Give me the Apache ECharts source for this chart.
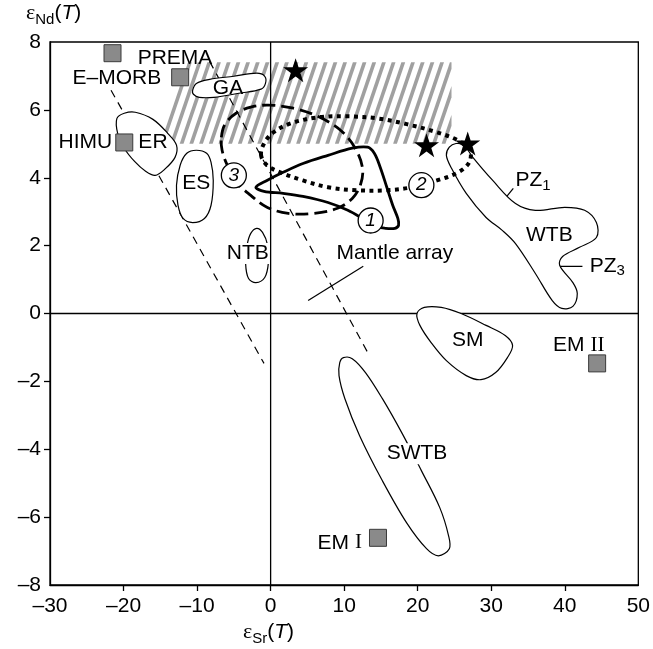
<!DOCTYPE html>
<html>
<head>
<meta charset="utf-8">
<script src="https://cdn.jsdelivr.net/npm/echarts@6/dist/echarts.min.js"></script>
<style>
  html, body { margin: 0; padding: 0; background: #fff; }
  #chart { width: 653px; height: 649px; }
</style>
</head>
<body>
<div id="chart"></div>
<script>
// Axis ticks
const X_TICKS = [-30, -20, -10, 0, 10, 20, 30, 40, 50];
const Y_TICKS = [-8, -6, -4, -2, 0, 2, 4, 6, 8];

// Mantle reservoirs (grey squares)
const endMembers = [[-21.5, 7.67], [-12.3, 6.96], [-19.9, 5.04], [44.4, -1.47], [14.6, -6.61]];
// Stars
const stars = [[3.4, 7.17], [21.2, 4.96], [26.8, 5.01]];
// Numbered trend markers
const circled = [[13.6, 2.74, '1'], [20.5, 3.78, '2'], [-5.0, 4.07, '3']];

// Field outlines (εSr, εNd)
const fieldER = [[-20.9, 5.75], [-19.9, 5.90], [-18.4, 5.93], [-16.0, 5.72], [-14.0, 5.31], [-12.8, 4.96],
  [-13.0, 4.60], [-14.4, 4.25], [-15.7, 4.07], [-17.0, 4.19], [-18.5, 4.48], [-19.9, 4.87], [-20.8, 5.31]];
const fieldES = [[-10.1, 4.81], [-8.7, 4.72], [-8.1, 4.45], [-7.8, 3.92], [-8.1, 3.19], [-9.0, 2.80],
  [-10.6, 2.68], [-11.9, 2.80], [-12.6, 3.19], [-12.8, 3.78], [-12.3, 4.37], [-11.4, 4.72]];
const fieldGA = [[-10.6, 6.58], [-10.1, 6.78], [-8.3, 6.90], [-5.0, 6.99], [-1.9, 7.08], [-0.8, 6.99],
  [-0.7, 6.78], [-1.3, 6.61], [-4.3, 6.49], [-7.7, 6.37], [-9.7, 6.37], [-10.5, 6.46]];
const fieldNTB = [[-1.9, 2.51], [-1.1, 2.39], [-0.4, 2.01], [-0.3, 1.50], [-0.8, 1.06], [-2.0, 0.91],
  [-3.0, 1.03], [-3.4, 1.47], [-3.2, 2.01], [-2.7, 2.36]];
const fieldWTB = [[24.3, 4.90], [25.2, 5.01], [26.3, 4.96], [27.5, 4.60], [30.2, 3.92], [33.3, 3.24],
  [36.0, 3.04], [40.0, 3.13], [42.7, 3.04], [44.3, 2.68], [44.3, 2.24], [42.0, 1.95], [39.7, 1.68],
  [39.3, 1.42], [41.1, 0.91], [41.7, 0.59], [41.1, 0.21], [39.6, 0.15], [38.3, 0.38], [36.0, 1.18],
  [33.3, 2.06], [31.5, 2.45], [29.3, 2.83], [26.6, 3.54], [24.6, 4.28], [23.9, 4.66]];
const fieldSM = [[19.9, 0.0], [20.9, 0.18], [23.2, 0.18], [25.9, 0.0], [29.3, -0.35], [31.9, -0.65],
  [32.9, -0.94], [32.2, -1.30], [30.6, -1.74], [28.6, -1.95], [26.6, -1.83], [23.9, -1.39],
  [21.9, -0.88], [20.3, -0.35]];
const fieldSWTB = [[9.9, -1.30], [11.1, -1.33], [12.9, -1.74], [15.2, -2.51], [17.9, -3.54], [20.5, -4.63],
  [23.0, -5.72], [24.2, -6.55], [24.3, -6.93], [22.8, -7.14], [21.2, -6.93], [18.5, -6.17],
  [15.2, -4.93], [12.1, -3.60], [10.1, -2.51], [9.3, -1.83], [9.4, -1.45]];

// Trend envelopes 1 (solid), 2 (dotted), 3 (dashed)
const trend1 = [[-2.0, 3.72], [-0.5, 3.92], [1.7, 4.16], [4.4, 4.42], [7.8, 4.66], [11.1, 4.87], [13.2, 4.90],
  [14.1, 4.72], [14.9, 4.31], [15.8, 3.72], [16.6, 3.19], [17.3, 2.80], [17.4, 2.60], [16.9, 2.51],
  [15.6, 2.51], [14.2, 2.57], [12.5, 2.80], [10.5, 3.04], [7.8, 3.27], [4.4, 3.45], [1.7, 3.54], [-0.9, 3.60]];
const trend2 = [[-1.3, 4.66], [-0.9, 5.01], [0.4, 5.34], [2.7, 5.60], [6.4, 5.78], [10.5, 5.81], [14.5, 5.75],
  [18.5, 5.58], [22.6, 5.34], [25.5, 5.10], [27.1, 4.81], [27.0, 4.45], [25.5, 4.16], [22.6, 3.92],
  [19.2, 3.72], [15.8, 3.63], [11.8, 3.63], [7.8, 3.72], [4.4, 3.92], [1.3, 4.16], [-0.5, 4.37]];
const trend3 = [[-6.7, 5.19], [-6.2, 5.58], [-4.7, 5.90], [-2.7, 6.08], [-0.3, 6.14], [3.1, 6.05], [6.4, 5.81],
  [9.5, 5.40], [11.5, 4.87], [12.5, 4.28], [12.2, 3.78], [11.1, 3.39], [9.1, 3.10], [5.8, 2.95],
  [2.4, 2.95], [-0.5, 3.13], [-2.7, 3.48], [-4.6, 3.86], [-5.9, 4.37], [-6.6, 4.81]];

// Hatched band (lower-left and upper-right corners)
const hatchBand = [[-15.0, 5.0], [24.6, 7.4]];

// Mantle array bounds and leader lines
const mantleArrayLeft = [[-21.7, 6.58], [-0.9, -1.47]];
const mantleArrayRight = [[-8.3, 7.43], [13.2, -1.15]];
const mantleArrayLeader = [[5.1, 0.38], [12.6, 1.39]];
const pz1Leader = [[30.9, 3.13], [33.0, 3.69]];
const pz3Leader = [[38.7, 1.39], [42.4, 1.39]];

// Text labels: [εSr, εNd, text]
const fieldLabels = [
  [-13.0, 7.52, 'PREMA'],
  [-20.9, 6.93, 'E–MORB'],
  [-5.8, 6.64, 'GA'],
  [-25.2, 5.04, 'HIMU'],
  [-16.0, 5.04, 'ER'],
  [-10.1, 3.83, 'ES'],
  [-3.1, 1.77, 'NTB'],
  [16.9, 1.77, 'Mantle array'],
  [37.9, 2.30, 'WTB'],
  [26.8, -0.80, 'SM'],
  [19.9, -4.13, 'SWTB'],
  [41.9, -0.94, 'EM {r|II}'],
  [9.4, -6.76, 'EM {r|I}']
];
const leftLabels = [
  [33.3, 3.92, 'PZ{s|1}'],
  [43.4, 1.39, 'PZ{s|3}']
];

const FONT = "'Liberation Sans', Arial, Helvetica, sans-serif";
const SERIF = "'Liberation Serif', 'Times New Roman', serif";
const dash = v => (v < 0 ? '–' + Math.abs(v) : String(v));

const chart = echarts.init(document.getElementById('chart'), null, { renderer: 'canvas' });

function outline(points, style, fill, z) {
  return {
    type: 'custom',
    coordinateSystem: 'cartesian2d',
    silent: true,
    clip: false,
    z: z,
    data: [points[0]],
    renderItem: (params, api) => ({
      type: 'polygon',
      shape: { points: points.map(p => api.coord(p)), smooth: 0.35 },
      style: Object.assign({ fill: fill, stroke: '#000' }, style)
    })
  };
}

function segment(points, width, type, z) {
  return {
    type: 'line',
    data: points,
    symbol: 'none',
    silent: true,
    z: z,
    lineStyle: { color: '#000', width: width, type: type, cap: 'butt' },
    animation: false
  };
}

// Keep the part of a polygon with x <= xr
function clipRight(poly, xr) {
  const out = [];
  for (let i = 0; i < poly.length; i++) {
    const a = poly[i], b = poly[(i + 1) % poly.length];
    const ina = a[0] <= xr, inb = b[0] <= xr;
    if (ina) out.push(a);
    if (ina !== inb) {
      const t = (xr - a[0]) / (b[0] - a[0]);
      out.push([xr, a[1] + t * (b[1] - a[1])]);
    }
  }
  return out;
}

const hatchSeries = {
  type: 'custom',
  coordinateSystem: 'cartesian2d',
  silent: true,
  z: 1,
  data: [hatchBand[0]],
  renderItem: (params, api) => {
    const bl = api.coord(hatchBand[0]);
    const tr = api.coord(hatchBand[1]);
    const h = bl[1] - tr[1];
    const lean = 0.34 * h, w = 3.8, step = 9.7;
    const children = [];
    for (let xb = bl[0]; xb < tr[0]; xb += step) {
      let poly = [[xb, bl[1]], [xb + w, bl[1]], [xb + w + lean, tr[1]], [xb + lean, tr[1]]];
      poly = clipRight(poly, tr[0]);
      if (poly.length > 2) {
        children.push({ type: 'polygon', shape: { points: poly }, style: { fill: '#a0a0a0' } });
      }
    }
    return { type: 'group', children: children };
  }
};

function textSeries(list, align, z) {
  return {
    type: 'custom',
    coordinateSystem: 'cartesian2d',
    silent: true,
    z: z,
    data: list.map(d => [d[0], d[1]]),
    renderItem: (params, api) => {
      const item = list[params.dataIndex];
      const p = api.coord([api.value(0), api.value(1)]);
      const boxed = item[2] === 'SWTB' || item[2] === 'NTB';
      return {
        type: 'text',
        x: p[0], y: p[1],
        style: {
          text: item[2],
          align: align, verticalAlign: 'middle',
          font: '21px ' + FONT, fill: '#000',
          backgroundColor: boxed ? '#fff' : null,
          padding: boxed ? [0, 1] : 0,
          rich: {
            r: { fontFamily: SERIF, fontSize: 21 },
            s: { fontSize: 15, verticalAlign: 'bottom', padding: [10, 0, 0, 0] }
          }
        }
      };
    }
  };
}

const STAR = 'path://M50,0 L61.2,34.5 L97.6,34.5 L68.2,55.9 L79.4,90.5 L50,69.1 L20.6,90.5 L31.8,55.9 L2.4,34.5 L38.8,34.5 Z';

const nameRich = {
  g: { font: '22px ' + SERIF, fill: '#000', lineHeight: 28, verticalAlign: 'middle' },
  s: { font: '15px ' + FONT, fill: '#000', lineHeight: 28, verticalAlign: 'bottom' },
  p: { font: '21px ' + FONT, fill: '#000', lineHeight: 28, verticalAlign: 'middle' },
  i: { font: 'italic 21px ' + FONT, fill: '#000', lineHeight: 28, verticalAlign: 'middle' }
};

const option = {
  animation: false,
  backgroundColor: '#fff',
  grid: { left: 50, right: 9, top: 42, bottom: 64, show: true, borderColor: '#000', borderWidth: 1.3, backgroundColor: 'transparent' },
  xAxis: {
    type: 'value',
    min: X_TICKS[0], max: X_TICKS[X_TICKS.length - 1], interval: 10,
    axisLine: { show: true, onZero: false, lineStyle: { color: '#000', width: 1.3 } },
    axisTick: { show: true, length: 6, customValues: X_TICKS.slice(1, -1), lineStyle: { color: '#000', width: 1.3 } },
    axisLabel: { color: '#000', fontSize: 21, fontFamily: FONT, margin: 11, formatter: dash },
    splitLine: { show: false }
  },
  yAxis: {
    type: 'value',
    min: Y_TICKS[0], max: Y_TICKS[Y_TICKS.length - 1], interval: 2,
    axisLine: { show: true, onZero: false, lineStyle: { color: '#000', width: 1.3 } },
    axisTick: { show: true, length: 6, customValues: Y_TICKS.slice(1, -1), lineStyle: { color: '#000', width: 1.3 } },
    axisLabel: { color: '#000', fontSize: 21, fontFamily: FONT, margin: 9, formatter: dash },
    splitLine: { show: false }
  },
  graphic: [
    { type: 'text', left: 26, top: 2, silent: true,
      style: { text: '{g|ε}{s|Nd}{p|(}{i|T}{p|)}', rich: nameRich } },
    { type: 'text', left: 243, top: 621, silent: true,
      style: { text: '{g|ε}{s|Sr}{p|(}{i|T}{p|)}', rich: nameRich } }
  ],
  series: [
    hatchSeries,
    segment([[0, Y_TICKS[0]], [0, Y_TICKS[Y_TICKS.length - 1]]], 1.3, 'solid', 2),
    segment([[X_TICKS[0], 0], [X_TICKS[X_TICKS.length - 1], 0]], 1.3, 'solid', 2),
    segment(mantleArrayLeft, 1.2, [8, 6], 2),
    segment(mantleArrayRight, 1.2, [8, 6], 2),
    segment(mantleArrayLeader, 1.2, 'solid', 2),
    segment(pz1Leader, 1.2, 'solid', 2),
    segment(pz3Leader, 1.2, 'solid', 2),
    outline(fieldER, { lineWidth: 1.2 }, '#fff', 3),
    outline(fieldES, { lineWidth: 1.2 }, '#fff', 3),
    outline(fieldGA, { lineWidth: 1.2 }, '#fff', 3),
    outline(fieldNTB, { lineWidth: 1.2 }, null, 3),
    outline(fieldWTB, { lineWidth: 1.2 }, '#fff', 3),
    outline(fieldSM, { lineWidth: 1.2 }, '#fff', 3),
    outline(fieldSWTB, { lineWidth: 1.2 }, '#fff', 3),
    outline(trend1, { lineWidth: 2.8, lineJoin: 'round' }, null, 4),
    outline(trend2, { lineWidth: 4, lineDash: [4, 4.5] }, null, 4),
    outline(trend3, { lineWidth: 2.8, lineDash: [13, 6] }, null, 4),
    {
      type: 'scatter', data: endMembers, symbol: 'rect', symbolSize: 17, z: 5, silent: true,
      itemStyle: { color: '#8a8a8a', borderColor: '#3a3a3a', borderWidth: 1, opacity: 1 }
    },
    {
      type: 'scatter', data: stars, symbol: STAR, symbolSize: [25, 24], z: 5, silent: true,
      itemStyle: { color: '#000', opacity: 1 }
    },
    {
      type: 'scatter', data: circled, symbol: 'circle', symbolSize: 25, z: 6, silent: true,
      itemStyle: { color: '#fff', borderColor: '#000', borderWidth: 1.3, opacity: 1 },
      label: { show: true, position: 'inside', formatter: p => p.data[2], color: '#000',
        fontStyle: 'italic', fontSize: 19, fontFamily: FONT }
    },
    textSeries(fieldLabels, 'center', 7),
    textSeries(leftLabels, 'left', 7)
  ]
};

chart.setOption(option);
</script>
</body>
</html>
